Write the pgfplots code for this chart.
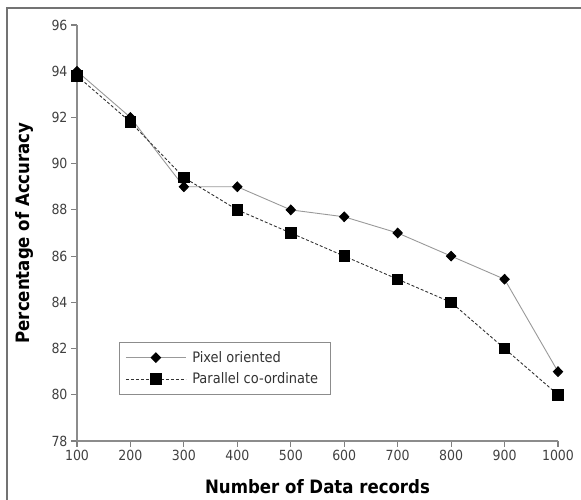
\documentclass[border=0pt]{standalone}
\usepackage{pgfplots}
\pgfplotsset{compat=1.18}
\usepackage{fontspec}
\setmainfont{DejaVu Sans Condensed}
\begin{document}
\begin{tikzpicture}[x=1bp,y=1bp]
\path[use as bounding box] (0,0) rectangle (581,500);
\draw[black!55, line width=2bp] (7,0) -- (7,492) -- (581,492);
\begin{axis}[
  at={(77bp,59bp)}, anchor=south west,
  scale only axis, width=481bp, height=416bp,
  xmin=100, xmax=1000, ymin=78, ymax=96,
  xtick={100,200,...,1000}, ytick={78,80,...,96},
  axis x line*=bottom, axis y line*=left,
  axis line style={black!45, line width=1.3bp},
  tick align=outside, major tick length=6bp,
  tick style={black!50, line width=1.1bp},
  /pgf/number format/assume math mode=true,
  /pgf/number format/1000 sep={},
  ticklabel style={font=\fontsize{14}{14}\selectfont, text=black!75},
  xlabel={\textbf{Number of Data records}},
  ylabel={\textbf{Percentage of Accuracy}},
  xlabel style={at={(axis description cs:0.5,-0.1106)}, anchor=center, font=\fontsize{18.5}{18.5}\selectfont},
  ylabel style={at={(axis description cs:-0.11,0.5)}, anchor=center, rotate=0, font=\fontsize{18.5}{18.5}\selectfont},
  legend style={at={(rel axis cs:0.0873,0.238)}, anchor=north west, draw=black!45, line width=0.8bp,
    font=\fontsize{14.5}{16}\selectfont, text=black!80, inner xsep=6bp, inner ysep=7bp, row sep=5bp,
    nodes={inner xsep=6bp}},
  legend cell align=left,
  legend image code/.code={\draw[mark repeat=2,mark phase=2,#1] plot coordinates {(0bp,0bp) (30bp,0bp) (60bp,0bp)};},
]
\addplot[black!40, line width=0.9bp, mark=diamond*, mark size=4.8bp, mark options={solid, fill=black, draw=black, xscale=1.3}]
coordinates {(100,94.0) (200,92.0) (300,89.0) (400,89.0) (500,88.0) (600,87.7) (700,87.0) (800,86.0) (900,85.0) (1000,81.0)};
\addlegendentry{Pixel oriented}
\addplot[black!80, line width=0.9bp, dash pattern=on 3bp off 2bp, mark=square*, mark size=5.2bp, mark options={solid, fill=black, draw=black}]
coordinates {(100,93.8) (200,91.8) (300,89.4) (400,88.0) (500,87.0) (600,86.0) (700,85.0) (800,84.0) (900,82.0) (1000,80.0)};
\addlegendentry{Parallel co-ordinate}
\end{axis}
\end{tikzpicture}
\end{document}
